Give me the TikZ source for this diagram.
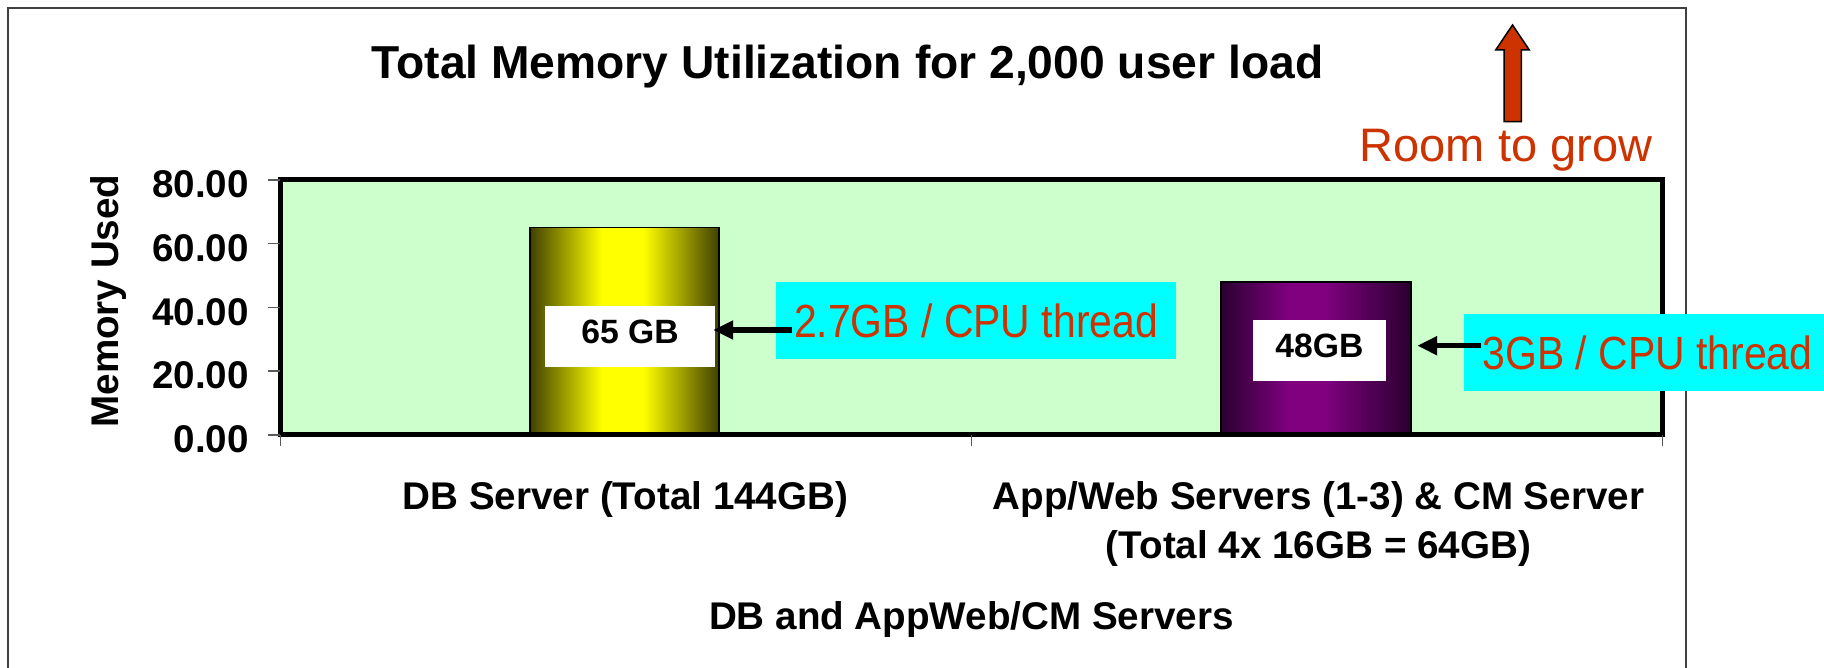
\documentclass[tikz,border=0pt]{standalone}
\usepackage{fontspec}
\setmainfont{Liberation Sans}
\newfontfamily\calloutfont[FakeStretch=0.88]{Liberation Sans}
\usetikzlibrary{arrows.meta}
\definecolor{plotbg}{RGB}{204,255,204}
\definecolor{rust}{RGB}{204,51,0}
\definecolor{framegray}{RGB}{64,64,64}
\definecolor{ydark}{RGB}{64,64,0}
\definecolor{ybright}{RGB}{255,255,0}
\definecolor{pdark}{RGB}{42,0,48}
\definecolor{pbright}{RGB}{128,0,128}
\definecolor{calloutbg}{RGB}{0,255,255}
% cylinder-like bar shadings (path box is mapped to 25bp..75bp)
\pgfdeclarehorizontalshading{yellowbar}{100bp}{color(0bp)=(ydark); color(25bp)=(ydark);
  color(44bp)=(ybright); color(55bp)=(ybright); color(75bp)=(ydark); color(100bp)=(ydark)}
\pgfdeclarehorizontalshading{purplebar}{100bp}{color(0bp)=(pdark); color(25bp)=(pdark);
  color(43bp)=(pbright); color(52bp)=(pbright); color(75bp)=(pdark); color(100bp)=(pdark)}
\begin{document}
\begin{tikzpicture}[x=1pt,y=1pt,
  lbl/.style={inner sep=0pt, font=\bfseries\fontsize{38.6}{46}\selectfont},
  axtick/.style={draw=gray!70!black, line width=1.5pt},
  callout/.style={fill=calloutbg, text=rust, inner sep=0pt,
    font=\calloutfont\fontsize{46.5}{50}\selectfont, text height=35pt, text depth=0pt},
  valbox/.style={fill=white, inner sep=0pt,
    font=\bfseries\fontsize{33.7}{40}\selectfont, text height=24pt, text depth=9pt},
  pointer/.style={line width=5.5pt, -{Triangle[length=20pt,width=18pt]}},
  barstyle/.style={draw=black, line width=1.5pt},
]
\useasboundingbox (0,0) rectangle (1824,-668);
\fill[white] (0,0) rectangle (1824,-668);
\clip (0,0) rectangle (1824,-668);

% chart frame (open at the bottom of the page)
\draw[framegray, line width=2pt] (8,-700) -- (8,-8) -- (1686,-8) -- (1686,-700);

% title
\node[anchor=base, inner sep=0pt, font=\bfseries\fontsize{46.2}{55}\selectfont]
  (title) at (847.5,-79) {Total Memory Utilization for 2,000 user load};

% plot area
\fill[plotbg] (280.5,-179.5) rectangle (1662,-434.5);

% bars
\draw[barstyle, shading=yellowbar] (530,-435) rectangle (719,-227.5);
\draw[barstyle, shading=purplebar] (1221,-435) rectangle (1411,-282);

% plot border
\draw[black, line width=5pt] (280.5,-179.5) rectangle (1662,-434.5);

% y ticks and labels
\foreach \y in {180,243.75,307.5,371.25,435}
  \draw[axtick] (268,-\y) -- (280,-\y);
\node[lbl, anchor=east] (y80) at (249,-184) {80.00};
\node[lbl, anchor=east] (y60) at (249,-248) {60.00};
\node[lbl, anchor=east] (y40) at (249,-312) {40.00};
\node[lbl, anchor=east] (y20) at (249,-375) {20.00};
\node[lbl, anchor=east] (y00) at (249,-439) {0.00};
\node[lbl, rotate=90, anchor=base] (ylab) at (118,-301) {Memory Used};

% x ticks
\foreach \x in {280.5,971.4,1662.7}
  \draw[axtick] (\x,-435) -- (\x,-446);

% category and axis labels
\node[lbl, anchor=base] (cat1) at (625.5,-509) {DB Server (Total 144GB)};
\node[lbl, anchor=base] (cat2a) at (1318.5,-509) {App/Web Servers (1-3) \& CM Server};
\node[lbl, anchor=base] (cat2b) at (1318.5,-558) {(Total 4x 16GB = 64GB)};
\node[lbl, anchor=base] (xlab) at (971.5,-629) {DB and AppWeb/CM Servers};

% value boxes on the bars
\node[valbox, minimum width=170pt, minimum height=61pt] (w65) at (630,-336.5) {65 GB};
\node[valbox, minimum width=133pt, minimum height=61pt] (w48) at (1319.5,-350.5) {48GB};

% per-thread callouts
\node[callout, minimum width=400pt, minimum height=77pt] (c27) at (976,-320.5) {2.7GB / CPU thread};
\node[callout, minimum width=367pt, minimum height=77pt] (c3) at (1647.5,-352.5) {3GB / CPU thread};

% horizontal pointers from the callouts to the value boxes
\coordinate (t48) at ([shift={(31pt,4.8pt)}]w48.east);
\draw[pointer] ([shift={(16pt,-9.5pt)}]c27.west) -- ([shift={(-2pt,6.5pt)}]w65.east);
\draw[pointer] ([shift={(17pt,6.8pt)}]c3.west) -- (t48);

% room to grow
\draw[fill=rust, draw=black, line width=1.5pt, line join=miter]
  (1504,-121.7) -- (1504,-50) -- (1495.7,-50) -- (1512.5,-25) -- (1529.3,-50)
  -- (1521.3,-50) -- (1521.3,-121.7) -- cycle;
\node[anchor=base, inner sep=0pt, text=rust, font=\fontsize{47}{56}\selectfont]
  (grow) at (1506,-161.7) {Room to grow};
\end{tikzpicture}
\end{document}
